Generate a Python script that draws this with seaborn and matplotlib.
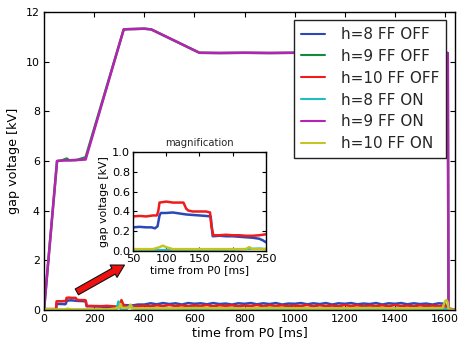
import matplotlib
matplotlib.use("Agg")
import matplotlib.pyplot as plt
import seaborn as sns
import pandas as pd

# ---------------- data ----------------
series_names = ["h=8 FF OFF", "h=9 FF OFF", "h=10 FF OFF",
                "h=8 FF ON", "h=9 FF ON", "h=10 FF ON"]
series_colors = ["#2a48b8", "#168a3c", "#f01c1c", "#22bcc4", "#b424b0", "#c4c424"]

# common tail sampling (ms) for the small-amplitude curves
t_tail = [400, 425, 450, 475, 500, 525, 550, 575, 600, 625, 650, 675, 700,
          725, 750, 775, 800, 825, 850, 875, 900, 925, 950, 975, 1000,
          1025, 1050, 1075, 1100, 1125, 1150, 1175, 1200, 1225, 1250, 1275,
          1300, 1325, 1350, 1375, 1400, 1425, 1450, 1475, 1500, 1525, 1550,
          1575, 1600]

# h=8 FF OFF (blue)
t_h8_off = [0, 48, 50, 60, 70, 78, 83, 87, 90, 92, 100, 110, 120, 130, 140,
            150, 160, 167, 170, 180, 190, 200, 210, 220, 230, 240, 245, 250,
            260, 275, 290, 300, 320, 350, 375] + t_tail + [1606, 1640]
v_h8_off = [0.02, 0.02, 0.24, 0.245, 0.24, 0.24, 0.23, 0.25, 0.36, 0.385,
            0.385, 0.39, 0.38, 0.37, 0.365, 0.36, 0.355, 0.35, 0.15, 0.155,
            0.15, 0.15, 0.145, 0.14, 0.135, 0.125, 0.11, 0.09, 0.08, 0.06,
            0.10, 0.12, 0.20, 0.18, 0.22,
            0.22, 0.27, 0.23, 0.28, 0.24, 0.27, 0.22,
            0.28, 0.25, 0.27, 0.23, 0.28, 0.24, 0.26,
            0.22, 0.27, 0.25, 0.28, 0.23, 0.27, 0.24,
            0.28, 0.22, 0.26, 0.25, 0.28, 0.23, 0.27,
            0.24, 0.28, 0.22, 0.27, 0.25, 0.28, 0.23,
            0.26, 0.24, 0.28, 0.22, 0.27, 0.25, 0.28,
            0.23, 0.27, 0.24, 0.26, 0.22, 0.27, 0.25,
            0.05, 0.02]

# h=9 FF OFF (green) and h=9 FF ON (magenta) - large curves
t_h9 = [0, 52, 70, 91, 100, 130, 166, 318, 335, 370, 400, 428, 620, 700,
        800, 900, 1000, 1100, 1200, 1300, 1400, 1500, 1600, 1611, 1614, 1640]
v_h9_off = [0.0, 6.0, 6.02, 6.1, 6.03, 6.04, 6.15, 11.30, 11.31, 11.32,
            11.33, 11.30, 10.36, 10.35, 10.36, 10.35, 10.36, 10.35, 10.36,
            10.35, 10.36, 10.35, 10.36, 10.35, 0.05, 0.02]
v_h9_on = [0.0, 6.0, 6.02, 6.02, 6.03, 6.04, 6.06, 11.30, 11.31, 11.32,
           11.33, 11.30, 10.36, 10.35, 10.36, 10.35, 10.36, 10.35, 10.36,
           10.35, 10.36, 10.35, 10.36, 10.35, 0.05, 0.02]

# h=10 FF OFF (red)
t_h10_off = [0, 48, 50, 60, 70, 80, 86, 88, 90, 100, 110, 120, 126, 130,
             133, 140, 150, 160, 166, 168, 171, 180, 190, 200, 210, 220, 230,
             240, 250, 260, 275, 290, 300, 309, 318, 330, 350, 375] + t_tail + [1606, 1640]
v_h10_off = [0.04, 0.04, 0.35, 0.355, 0.35, 0.36, 0.36, 0.40, 0.49, 0.50,
             0.49, 0.49, 0.49, 0.43, 0.41, 0.40, 0.40, 0.40, 0.39, 0.25,
             0.16, 0.16, 0.165, 0.16, 0.16, 0.155, 0.155, 0.16, 0.17, 0.16,
             0.15, 0.14, 0.15, 0.40, 0.18, 0.14, 0.16, 0.15,
             0.18, 0.15, 0.19, 0.16, 0.20, 0.16, 0.19,
             0.15, 0.18, 0.16, 0.20, 0.15, 0.19, 0.17,
             0.19, 0.15, 0.18, 0.16, 0.20, 0.15, 0.19,
             0.16, 0.19, 0.15, 0.18, 0.16, 0.20, 0.15,
             0.19, 0.16, 0.18, 0.15, 0.20, 0.16, 0.19,
             0.15, 0.18, 0.16, 0.19, 0.15, 0.20, 0.16,
             0.18, 0.15, 0.19, 0.16, 0.18, 0.15, 0.19,
             0.04, 0.02]

# h=8 FF ON (cyan)
t_h8_on = [0, 50, 100, 150, 200, 220, 240, 250, 270, 290, 297, 305, 330,
           345, 360, 400, 500, 600, 700, 800, 900, 1000, 1100, 1200, 1300,
           1400, 1500, 1600, 1640]
v_h8_on = [0.02, 0.01, 0.01, 0.01, 0.015, 0.02, 0.025, 0.02, 0.03, 0.05,
           0.34, 0.05, 0.04, 0.20, 0.04, 0.04, 0.05, 0.04, 0.06, 0.04, 0.05,
           0.04, 0.05, 0.06, 0.04, 0.05, 0.04, 0.05, 0.01]

# h=10 FF ON (yellow)
t_h10_on = [0, 50, 80, 90, 95, 100, 110, 150, 200, 220, 225, 230, 250, 280,
            300, 305, 312, 340, 345, 350, 400, 500, 600, 700, 800, 900, 1000,
            1100, 1200, 1300, 1400, 1500, 1590, 1600, 1606, 1611, 1614, 1640]
v_h10_on = [0.03, 0.02, 0.02, 0.04, 0.055, 0.04, 0.02, 0.02, 0.02, 0.02,
            0.04, 0.02, 0.02, 0.05, 0.10, 0.25, 0.08, 0.10, 0.22, 0.06, 0.07,
            0.06, 0.08, 0.07, 0.06, 0.08, 0.07, 0.06, 0.07, 0.08, 0.06, 0.07,
            0.08, 0.35, 0.40, 0.30, 0.02, 0.01]

# annotation arrow (data coordinates, main axes)
arrow_tail = (131, 0.73)
arrow_head = (321, 1.81)

main_xticks = [0, 200, 400, 600, 800, 1000, 1200, 1400, 1600]
main_yticks = [0, 2, 4, 6, 8, 10, 12]
inset_xticks = [50, 100, 150, 200, 250]
inset_yticks = [0.0, 0.2, 0.4, 0.6, 0.8, 1.0]

# ---------------- build table ----------------
parts = []
for name, t, v in [(series_names[0], t_h8_off, v_h8_off),
                   (series_names[1], t_h9, v_h9_off),
                   (series_names[2], t_h10_off, v_h10_off),
                   (series_names[3], t_h8_on, v_h8_on),
                   (series_names[4], t_h9, v_h9_on),
                   (series_names[5], t_h10_on, v_h10_on)]:
    parts.append(pd.DataFrame({"time": t, "voltage": v, "series": name}))
df = pd.concat(parts, ignore_index=True)
palette = dict(zip(series_names, series_colors))

# ---------------- style ----------------
sns.set_theme(style="white")
plt.rcParams.update({
    "font.family": ["DejaVu Sans"],
    "axes.edgecolor": "black",
    "axes.linewidth": 1.0,
    "axes.labelcolor": "black",
    "xtick.color": "black",
    "ytick.color": "black",
    "xtick.direction": "in",
    "ytick.direction": "in",
    "xtick.top": True,
    "ytick.right": True,
    "xtick.major.size": 3.5,
    "ytick.major.size": 3.5,
    "xtick.major.width": 0.8,
    "ytick.major.width": 0.8,
    "xtick.bottom": True,
    "ytick.left": True,
})

fig = plt.figure(figsize=(4.6, 3.44), dpi=100)
ax = fig.add_axes([0.0957, 0.0988, 0.8935, 0.8662])

sns.lineplot(data=df, x="time", y="voltage", hue="series",
             hue_order=series_names, palette=palette, estimator=None,
             sort=False, linewidth=1.8, ax=ax)

ax.set_xlim(0, 1640)
ax.set_ylim(0, 12)
ax.set_xticks(main_xticks)
ax.set_yticks(main_yticks)
ax.tick_params(labelsize=7.9, pad=3)
ax.set_xlabel("time from P0 [ms]", fontsize=9.2, labelpad=1)
ax.set_ylabel("gap voltage [kV]", fontsize=9.2, labelpad=4)

handles, labels = ax.get_legend_handles_labels()
leg = ax.legend(handles, labels, loc="upper right",
                bbox_to_anchor=(0.978, 0.973), borderaxespad=0,
                fontsize=11, frameon=True, fancybox=False,
                edgecolor="#222222", framealpha=1, handlelength=1.6,
                handletextpad=1.0, labelspacing=0.45, borderpad=0.45)
leg.get_frame().set_linewidth(1.0)
for lh in leg.get_lines():
    lh.set_linewidth(1.5)

ax.annotate("", xy=arrow_head, xytext=arrow_tail,
            arrowprops=dict(arrowstyle="simple,head_length=0.75,head_width=0.85,tail_width=0.4",
                            fc="#ee1111", ec="#111111", lw=0.8,
                            shrinkA=0, shrinkB=0))

# ---------------- inset ----------------
axi = fig.add_axes([0.289, 0.270, 0.289, 0.288])
sns.lineplot(data=df, x="time", y="voltage", hue="series",
             hue_order=series_names, palette=palette, estimator=None,
             sort=False, linewidth=1.8, ax=axi, legend=False)
axi.set_xlim(50, 250)
axi.set_ylim(0, 1.0)
axi.set_xticks(inset_xticks)
axi.set_yticks(inset_yticks)
axi.set_yticklabels([f"{v:.1f}" for v in inset_yticks])
axi.tick_params(labelsize=8.2, pad=2, length=3)
axi.set_xlabel("time from P0 [ms]", fontsize=7.8, labelpad=1)
axi.set_ylabel("gap voltage [kV]", fontsize=7.8, labelpad=2)
axi.set_title("magnification", fontsize=7.2, pad=4)

fig.savefig("out.png", dpi=100)
